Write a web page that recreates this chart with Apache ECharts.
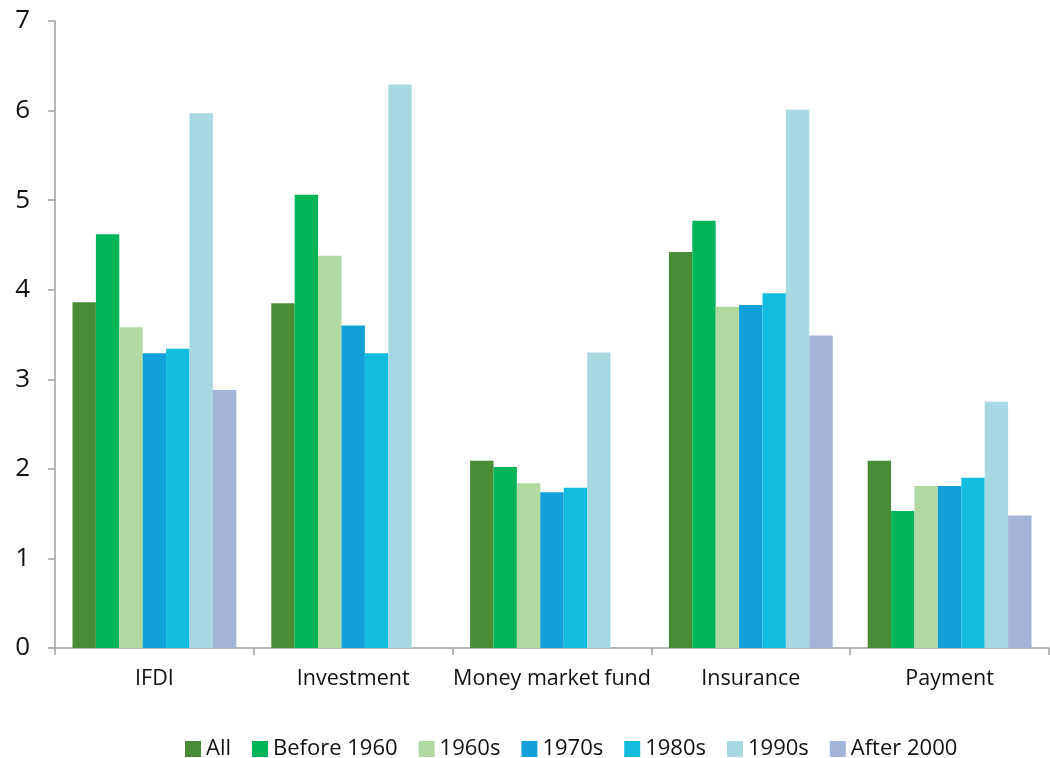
<!DOCTYPE html>
<html lang="en">
<head>
	<meta charset="UTF-8">
	<title>echarts</title>
	<style>
		html, body { margin: 0; padding: 0; background: #fff; }
	</style>
</head>
<body>
	<div id="demo" style="width: 1050px;height:758px;"></div>
	<script src="https://cdn.jsdelivr.net/npm/echarts@6/dist/echarts.min.js"></script>
	<script>
		// data
		var categories = ['IFDI', 'Investment', 'Money market fund', 'Insurance', 'Payment'];
		var seriesNames = ['All', 'Before 1960', '1960s', '1970s', '1980s', '1990s', 'After 2000'];
		var all = [3.86, 3.85, 2.09, 4.42, 2.09];
		var before1960 = [4.62, 5.06, 2.02, 4.77, 1.53];
		var s1960s = [3.58, 4.38, 1.84, 3.81, 1.81];
		var s1970s = [3.29, 3.60, 1.74, 3.83, 1.81];
		var s1980s = [3.34, 3.29, 1.79, 3.96, 1.90];
		var s1990s = [5.97, 6.29, 3.30, 6.01, 2.75];
		var after2000 = [2.88, null, null, 3.49, 1.48];
		var yTicks = [0, 1, 2, 3, 4, 5, 6, 7];

		var seriesData = [all, before1960, s1960s, s1970s, s1980s, s1990s, after2000];
		var colors = ['#4a8c35', '#00b558', '#b3d9a3', '#12a0d8', '#12bde0', '#a8d9e3', '#a2b5d8'];
		var font = '"Open Sans", "Noto Sans", sans-serif';

		var myChart = echarts.init(document.getElementById('demo'));

		var option = {
			animation: false,
			color: colors,
			grid: { left: 55, right: 1, top: 21, bottom: 110 },
			legend: {
				data: seriesNames,
				top: 733,
				left: 180,
				icon: 'rect',
				itemWidth: 16,
				itemHeight: 16,
				itemGap: 21,
				textStyle: { fontFamily: font, fontSize: 22, color: '#111' }
			},
			xAxis: {
				type: 'category',
				data: categories,
				axisLine: { lineStyle: { color: '#a0a0a0', width: 1.5 } },
				axisTick: { show: true, length: 7, lineStyle: { color: '#a0a0a0', width: 1.5 } },
				axisLabel: { interval: 0, fontFamily: font, fontSize: 21.5, color: '#111', margin: 20 }
			},
			yAxis: {
				type: 'value',
				min: yTicks[0],
				max: yTicks[yTicks.length - 1],
				interval: 1,
				splitLine: { show: false },
				axisLine: { show: true, lineStyle: { color: '#a0a0a0', width: 1.5 } },
				axisTick: { show: true, length: 7, lineStyle: { color: '#a0a0a0', width: 1.5 } },
				axisLabel: { fontFamily: font, fontSize: 26, color: '#111', margin: 25 }
			},
			series: []
		};

		seriesNames.forEach(function(name, i) {
			option.series.push({
				name: name,
				type: 'bar',
				data: seriesData[i],
				barGap: '0%',
				barCategoryGap: '17.6%'
			});
		});

		myChart.setOption(option);
	</script>
</body>
</html>
